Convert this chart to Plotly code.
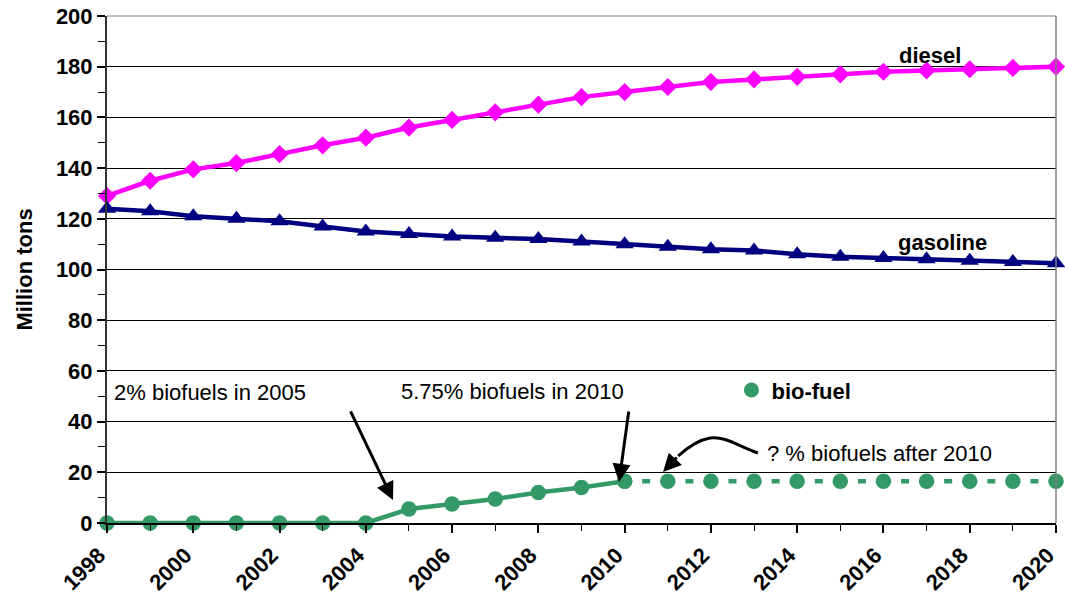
import plotly.graph_objects as go

years = list(range(1998, 2021))
diesel = [129, 135, 139.5, 142, 145.5, 149, 152, 156, 159, 162, 165, 168, 170,
          172, 174, 175, 176, 177, 178, 178.5, 179, 179.5, 180]
gasoline = [124, 123, 121, 120, 119, 117, 115, 114, 113, 112.5, 112, 111, 110,
            109, 108, 107.5, 106, 105, 104.5, 104, 103.5, 103, 102.5]
biofuel = [0, 0, 0, 0, 0, 0, 0, 5.5, 7.5, 9.5, 12, 14, 16.5,
           16.5, 16.5, 16.5, 16.5, 16.5, 16.5, 16.5, 16.5, 16.5, 16.5]
y_ticks = list(range(0, 201, 20))
x_ticks = list(range(1998, 2021, 2))

W, H = 1065, 597
ML, MR, MT, MB = 107, 9, 16, 74
plot_w = W - ML - MR
step = plot_w / (len(years) - 1)

PINK = "#FF00FF"
NAVY = "#000080"
GREEN = "#339966"
FONT = "Arial, Liberation Sans, sans-serif"

split = years.index(2010)

fig = go.Figure()
fig.add_trace(go.Scatter(x=years, y=diesel, mode="lines+markers", showlegend=False,
                         line=dict(color=PINK, width=4.5),
                         marker=dict(symbol="diamond", size=14, color=PINK),
                         cliponaxis=False))
fig.add_trace(go.Scatter(x=years, y=gasoline, mode="lines+markers", showlegend=False,
                         line=dict(color=NAVY, width=4.5),
                         marker=dict(symbol="triangle-up", size=16, color=NAVY),
                         cliponaxis=False))
d = step / 2 - 4
fig.add_trace(go.Scatter(x=years[split:], y=biofuel[split:], mode="lines+markers",
                         showlegend=False,
                         line=dict(color=GREEN, width=4.5,
                                   dash=f"0px,{d:.2f}px,8px,{step - 8 - d:.2f}px"),
                         marker=dict(symbol="circle", size=15.5, color=GREEN),
                         cliponaxis=False))
fig.add_trace(go.Scatter(x=years[:split + 1], y=biofuel[:split + 1], mode="lines+markers",
                         showlegend=False,
                         line=dict(color=GREEN, width=4.5),
                         marker=dict(symbol="circle", size=15.5, color=GREEN),
                         cliponaxis=False))
fig.add_trace(go.Scatter(x=[None], y=[None], mode="markers", name="bio-fuel",
                         marker=dict(symbol="circle", size=15, color=GREEN)))

ann_font = dict(family=FONT, size=22, color="black")
bold_font = dict(family=FONT, size=22, color="black", weight="bold")
annotations = [
    dict(x=1998.12, y=51.3, text="2% biofuels in 2005", xanchor="left", yanchor="middle",
         showarrow=False, font=ann_font),
    dict(x=2007.39, y=51.7, text="5.75% biofuels in 2010", xanchor="center", yanchor="middle",
         showarrow=False, font=ann_font),
    dict(x=2013.25, y=27.6, text="? % biofuels after 2010", xanchor="left", yanchor="middle",
         showarrow=False, font=ann_font),
    dict(x=2017.07, y=184.6, text="diesel", xanchor="center", yanchor="middle",
         showarrow=False, font=bold_font),
    dict(x=2017.38, y=110.8, text="gasoline", xanchor="center", yanchor="middle",
         showarrow=False, font=bold_font),
    dict(x=2004.63, y=9.07, ax=2003.63, ay=44.6, axref="x", ayref="y", text="",
         showarrow=True, arrowhead=2, arrowsize=1.2, arrowwidth=3, arrowcolor="black"),
    dict(x=2009.87, y=16.2, ax=2010.10, ay=44.6, axref="x", ayref="y", text="",
         showarrow=True, arrowhead=2, arrowsize=1.2, arrowwidth=3, arrowcolor="black"),
    dict(x=2010.89, y=20.1, ax=2011.24, ay=26.43, axref="x", ayref="y", text="",
         showarrow=True, arrowhead=2, arrowsize=1.2, arrowwidth=3, arrowcolor="black"),
]

shapes = [
    dict(type="path", xref="x", yref="y",
         path="M 2013.09,27.61 C 2012.63,30.37 2012.33,34.32 2011.98,33.53 "
              "C 2011.70,32.74 2011.47,29.98 2011.24,26.43",
         line=dict(color="black", width=3)),
    dict(type="line", xref="paper", yref="paper", x0=0, x1=1, y0=1, y1=1,
         line=dict(color="#808080", width=1)),
    dict(type="line", xref="paper", yref="paper", x0=1, x1=1, y0=0, y1=1,
         line=dict(color="#808080", width=1.5)),
]

fig.update_layout(
    width=W, height=H,
    margin=dict(l=ML, r=MR, t=MT, b=MB, autoexpand=False),
    paper_bgcolor="white", plot_bgcolor="white",
    font=dict(family=FONT, size=22, color="black"),
    annotations=annotations,
    shapes=shapes,
    legend=dict(x=0.658, y=0.262, xanchor="left", yanchor="middle",
                bgcolor="rgba(0,0,0,0)",
                font=dict(family=FONT, size=22, color="black", weight="bold")),
    xaxis=dict(range=[1997.9999, 2020.0001], tickvals=x_ticks,
               ticktext=[str(v) for v in x_ticks], automargin=False,
               ticklabeloverflow="allow", ticklabelshift=-8, ticklabelstandoff=1,
               tickangle=-45, showgrid=False, zeroline=False,
               showline=True, linecolor="black", linewidth=1.5,
               ticks="outside", ticklen=8, tickcolor="black", tickwidth=1.5,
               tickfont=dict(family=FONT, size=22, color="black", weight="bold"),
               minor=dict(dtick=1, tick0=1998, ticks="outside", ticklen=6,
                          tickcolor="black", tickwidth=1.2, showgrid=False)),
    yaxis=dict(range=[0, 200], tickvals=y_ticks, showgrid=True, gridcolor="black",
               gridwidth=1, zeroline=False, automargin=False,
               showline=True, linecolor="#333333", linewidth=2,
               ticks="outside", ticklen=8, tickcolor="black", tickwidth=1.5,
               tickfont=dict(family=FONT, size=22, color="black", weight="bold"),
               title=dict(text="Million tons", standoff=17,
                          font=dict(family=FONT, size=22, color="black", weight="bold")),
               minor=dict(dtick=10, tick0=0, ticks="outside", ticklen=7,
                          tickcolor="black", tickwidth=1.2, showgrid=False)),
)

fig.write_html("out.html", config={"displayModeBar": False},
               post_script="document.body.style.margin='0';"
                           "document.body.style.overflow='hidden';")
